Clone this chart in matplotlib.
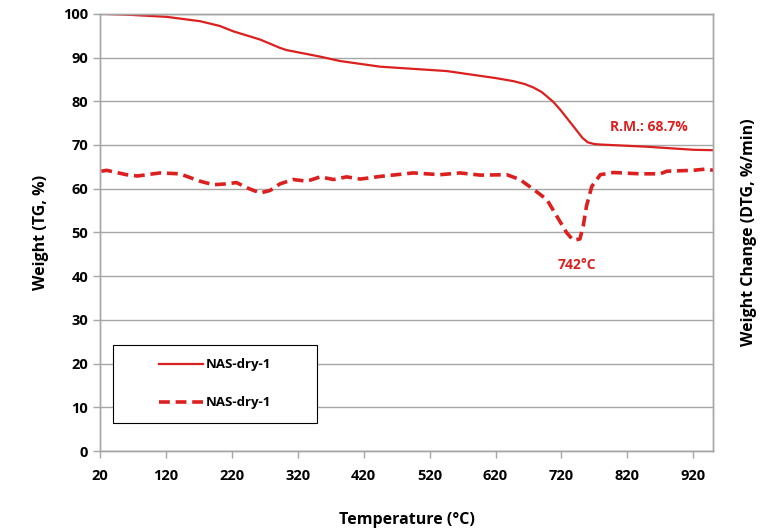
import numpy as np
import matplotlib
matplotlib.use("Agg")
import matplotlib.pyplot as plt
from matplotlib.patches import Rectangle

plt.rcParams["font.family"] = ["Open Sans", "DejaVu Sans"]
plt.rcParams["font.weight"] = "bold"

# TG curve (weight, %)
tg_temp = [22, 60, 121, 172, 202, 222, 263, 293, 303, 354, 384, 445,
           546, 620, 647, 665, 678, 690, 698, 708, 718, 738, 752, 760, 770,
           779, 849, 920, 950]
tg_wt = [100.0, 99.8, 99.3, 98.3, 97.2, 96.0, 94.1, 92.2, 91.7, 90.2, 89.2, 87.9,
         86.9, 85.3, 84.6, 83.9, 83.1, 82.1, 81.1, 79.8, 78.1, 74.3, 71.6, 70.6,
         70.2, 70.1, 69.6, 68.9, 68.8]

# DTG curve (plotted on the hidden right axis, same scale)
dtg_temp = [22, 30, 60, 77, 91, 111, 141, 172, 192, 212, 227, 243, 263, 278, 293,
            313, 334, 354, 374, 394, 415, 445, 495, 536, 566, 597, 637, 657, 678,
            698, 713, 728, 738, 748, 753, 758, 766, 779, 799, 839, 870, 880, 920,
            940, 950]
dtg_val = [64.0, 64.2, 63.2, 62.9, 63.2, 63.6, 63.4, 61.7, 60.9, 61.1, 61.4, 60.2,
           59.0, 59.6, 61.1, 62.1, 61.7, 62.7, 62.1, 62.7, 62.2, 62.8, 63.6, 63.2,
           63.6, 63.1, 63.2, 62.1, 59.8, 57.5, 53.7, 49.9, 48.2, 48.5, 51.4, 56.0,
           60.5, 63.2, 63.7, 63.4, 63.4, 64.0, 64.2, 64.5, 64.2]

x_ticks = [20, 120, 220, 320, 420, 520, 620, 720, 820, 920]
y_ticks = [0, 10, 20, 30, 40, 50, 60, 70, 80, 90, 100]
series_label = "NAS-dry-1"
red = "#dc1f1f"
grey = "#a6a6a6"

fig = plt.figure(figsize=(7.6, 5.3), dpi=100)
ax = fig.add_axes([0.1316, 0.149, 0.8066, 0.825])
ax2 = ax.twinx()

l1, = ax.plot(tg_temp, tg_wt, color=red, lw=1.6, label=series_label)
l2, = ax2.plot(dtg_temp, dtg_val, color=red, lw=2.6, ls=(0, (3, 1.6)),
               label=series_label)

for a in (ax, ax2):
    a.set_xlim(20, 950)
    a.set_ylim(0, 100)
    for s in a.spines.values():
        s.set_color(grey)
        s.set_linewidth(1)

ax.set_xticks(x_ticks)
ax.set_yticks(y_ticks)
ax.tick_params(axis="both", colors=grey, labelcolor="black", labelsize=10.5,
               length=5, width=1)
ax.tick_params(axis="x", pad=8)
ax.grid(axis="y", color=grey, lw=1)
ax.set_axisbelow(True)
ax2.set_yticks([])

ax.set_xlabel("Temperature (°C)", fontsize=11.5, fontweight="bold", labelpad=21)
ax.set_ylabel("Weight (TG, %)", fontsize=11.5, fontweight="bold", labelpad=10)
ax2.set_ylabel("Weight Change (DTG, %/min)", fontsize=11.5, fontweight="bold",
               labelpad=20)

ax.text(852, 74.0, "R.M.: 68.7%", color=red, fontsize=10, fontweight="bold",
        ha="center", va="center")
ax.text(744, 42.6, "742°C", color=red, fontsize=10, fontweight="bold",
        ha="center", va="center")

# legend box drawn separately so the entries can sit centred inside it
ax2.add_patch(Rectangle((0.021, 0.064), 0.333, 0.179, transform=ax2.transAxes,
                        facecolor="white", edgecolor="black", lw=0.8,
                        zorder=4))
leg = ax2.legend([l1, l2], [series_label, series_label], loc="center",
                 bbox_to_anchor=(0.1876, 0.154), fontsize=9.5,
                 handlelength=3.4, handletextpad=0.2, labelspacing=1.9,
                 frameon=False, borderaxespad=0)
leg.set_zorder(5)
for t in leg.get_texts():
    t.set_fontweight("bold")

fig.savefig("out.png", dpi=100)
